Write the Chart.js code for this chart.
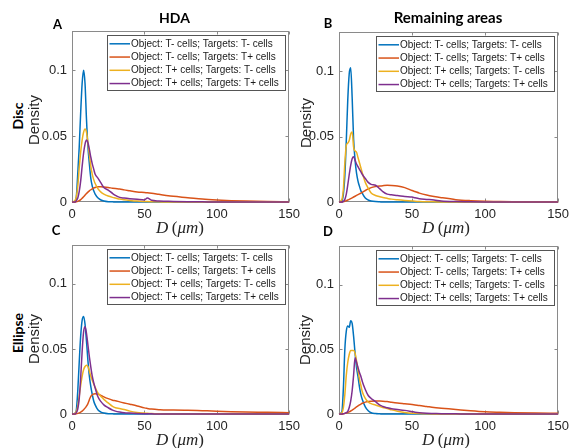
<!DOCTYPE html>
<html><head><meta charset="utf-8">
<script src="https://cdn.jsdelivr.net/npm/chart.js@4.4.0/dist/chart.umd.min.js"></script>
<style>
html,body{margin:0;padding:0;background:#fff;}
#wrap{position:relative;width:574px;height:448px;overflow:hidden;font-family:"Liberation Sans",Arial,sans-serif;}
canvas{position:absolute;}
.t{position:absolute;white-space:nowrap;color:#000;line-height:1;}
.b{font-weight:bold;font-family:Lato,"Liberation Sans",sans-serif;}
.c{transform:translate(-50%,-50%);}
.r{transform:translate(-50%,-50%) rotate(-90deg);}
.dens{font-size:15px;color:#262626;font-family:"Liberation Sans",Arial,sans-serif;}
.xl{font-family:"Liberation Serif","DejaVu Serif",serif;font-size:17px;color:#262626;}
</style></head><body><div id="wrap"></div>
<script>
// ---------- data ----------
const D_UM = [0,2,3,4,5,6,7,8,9,10,11,12,13,14,15,16,18,20,22,25,28,30,33,36,40,45,50,52,55,60,65,70,80,90,100,110,120,135,150];
const SERIES = ['Object: T- cells; Targets: T- cells','Object: T- cells; Targets: T+ cells','Object: T+ cells; Targets: T- cells','Object: T+ cells; Targets: T+ cells'];
const X_TICKS = [0,50,100,150];
const X_TICK_LABELS = ['0','50','100','150'];
const Y_TICKS = [0,0.05,0.1];
const Y_TICK_LABELS = ['0','0.05','0.1'];

// A: HDA, Disc
const hdaDiscNegNeg = [0,.0005,.004,.022,.042,.068,.09,.1,.09,.063,.042,.029,.018,.012,.0085,.006,.003,.0015,.0007,.0002,.0001,0,0,0,0,0,0,0,0,0,0,0,0,0,0,0,0,0,0];
const hdaDiscNegPos = [0,0,.0002,.0005,.001,.0018,.0028,.004,.0052,.0064,.0075,.0085,.0093,.01,.0106,.011,.0115,.0116,.0114,.011,.0105,.0102,.0098,.0092,.0085,.0076,.0072,.007,.0066,.0058,.005,.0043,.0033,.0022,.0015,.001,.0007,.0004,.0002];
const hdaDiscPosNeg = [0,.001,.004,.012,.026,.038,.047,.053,.0555,.053,.045,.036,.027,.021,.017,.014,.01,.0075,.006,.0045,.0035,.003,.0022,.0017,.0012,.0007,.0004,.0003,.0002,.0001,0,0,0,0,0,0,0,0,0];
const hdaDiscPosPos = [0,0,.001,.003,.008,.016,.027,.037,.044,.047,.045,.04,.034,.029,.025,.021,.018,.0145,.011,.009,.0065,.005,.0035,.003,.0025,.002,.0016,.003,.0013,.0008,.0006,.0004,.0002,.0001,0,0,0,0,0];
// B: Remaining areas, Disc
const remDiscNegNeg = [0,.001,.006,.02,.047,.078,.098,.1025,.08,.048,.032,.022,.016,.012,.0085,.0065,.003,.0015,.0008,.0003,.0001,0,0,0,0,0,0,0,0,0,0,0,0,0,0,0,0,0,0];
const remDiscNegPos = [0,.0001,.0003,.0006,.001,.0015,.002,.0026,.0032,.0038,.0044,.005,.0056,.0062,.0068,.0074,.0088,.01,.011,.0118,.0123,.0125,.0127,.0126,.0122,.011,.0088,.008,.0068,.0053,.0042,.0033,.0018,.001,.0005,.0003,.0002,.0001,.0001];
const remDiscPosNeg = [0,.002,.01,.03,.043,.045,.047,.052,.0535,.042,.039,.038,.034,.03,.026,.022,.015,.0105,.0068,.005,.004,.0035,.0028,.0022,.0017,.0012,.0008,.0006,.0004,.0002,.0001,0,0,0,0,0,0,0,0];
const remDiscPosPos = [0,0,.0005,.002,.006,.013,.021,.028,.033,.0345,.032,.029,.027,.025,.023,.021,.018,.015,.0135,.0128,.01,.008,.006,.0055,.005,.0042,.0038,.0032,.0025,.002,.0015,.0008,.0003,.0001,0,0,0,0,0];
// C: HDA, Ellipse
const hdaEllNegNeg = [0,.0005,.003,.018,.04,.06,.072,.075,.069,.056,.041,.029,.021,.015,.01,.007,.003,.0015,.0007,.0002,.0001,0,0,0,0,0,0,0,0,0,0,0,0,0,0,0,0,0,0];
const hdaEllNegPos = [0,0,.0002,.0005,.0009,.0015,.0022,.0033,.0045,.006,.008,.011,.0135,.0148,.0153,.0155,.0152,.0143,.0132,.0118,.0106,.0102,.0093,.0085,.0075,.0062,.0047,.0043,.0038,.0033,.003,.003,.0028,.0025,.0022,.0018,.0015,.0013,.001];
const hdaEllPosNeg = [0,.0005,.002,.006,.014,.022,.029,.034,.0365,.0375,.0365,.033,.029,.026,.023,.0205,.016,.0135,.0112,.0085,.0058,.0048,.0042,.0035,.0022,.0012,.0007,.0005,.0003,.0001,0,0,0,0,0,0,0,0,0];
const hdaEllPosPos = [0,0,.001,.004,.012,.028,.048,.063,.067,.062,.053,.044,.036,.029,.024,.02,.013,.0095,.007,.0048,.003,.0022,.0015,.001,.0007,.0004,.0002,.00015,.0001,0,0,0,0,0,0,0,0,0,0];
// D: Remaining areas, Ellipse
const remEllNegNeg = [0,.002,.02,.05,.064,.068,.067,.072,.07,.06,.047,.036,.029,.021,.015,.011,.0055,.0025,.001,.0003,.0001,0,0,0,0,0,0,0,0,0,0,0,0,0,0,0,0,0,0];
const remEllNegPos = [0,0,.0002,.0005,.0008,.0012,.0017,.0023,.003,.0038,.0046,.0055,.0062,.007,.0077,.0083,.0092,.0097,.0099,.01,.01,.0099,.0096,.0091,.0085,.0079,.0073,.007,.0066,.0058,.005,.0045,.0035,.0025,.0017,.0013,.001,.0007,.0005];
const remEllPosNeg = [0,.001,.005,.015,.03,.04,.046,.049,.049,.049,.047,.041,.034,.027,.022,.017,.012,.0093,.008,.007,.0058,.005,.0042,.0032,.0022,.0012,.0006,.0005,.0003,.0001,0,0,0,0,0,0,0,0,0];
const remEllPosPos = [0,0,.0002,.0005,.001,.002,.005,.01,.018,.03,.0435,.04,.036,.032,.029,.025,.019,.0143,.012,.0095,.0068,.0058,.0048,.004,.0035,.0028,.0018,.0014,.001,.0006,.0004,.0002,.0001,0,0,0,0,0,0];

// ---------- styling / layout ----------
const COLORS = ['#0072BD','#D95319','#EDB120','#7E2F8E'];
const wrap = document.getElementById('wrap');

const framePlugin = {
  id:'frame',
  beforeDatasetsDraw(chart){
    const {ctx, chartArea:a, scales:{x,y}} = chart;
    ctx.save();
    ctx.strokeStyle='#8a8a8a'; ctx.lineWidth=1;
    const L=Math.round(a.left)+0.5, R=Math.round(a.right)-0.5, T=Math.round(a.top)+0.5, B=Math.round(a.bottom)-0.5;
    ctx.strokeRect(L,T,R-L,B-T);
    ctx.beginPath();
    x.ticks.forEach(t=>{const p=Math.round(x.getPixelForValue(t.value))+0.5; ctx.moveTo(p,B); ctx.lineTo(p,B-3); ctx.moveTo(p,T); ctx.lineTo(p,T+3);});
    y.ticks.forEach(t=>{const p=Math.round(y.getPixelForValue(t.value))+0.5; ctx.moveTo(L,p); ctx.lineTo(L+3,p); ctx.moveTo(R,p); ctx.lineTo(R-3,p);});
    ctx.stroke();
    ctx.restore();
  }
};
const legendPlugin = {
  id:'boxLegend',
  afterDraw(chart){
    const {ctx, chartArea:a} = chart;
    const w=178, h=55;
    const x0=Math.round(a.right-4-w), y0=Math.round(a.top+4);
    ctx.save();
    ctx.fillStyle='#fff'; ctx.fillRect(x0,y0,w,h);
    ctx.strokeStyle='#555'; ctx.lineWidth=1; ctx.strokeRect(x0+0.5,y0+0.5,w,h);
    ctx.font='10px "Liberation Sans", Arial, sans-serif';
    ctx.textBaseline='middle'; ctx.textAlign='left';
    chart.data.datasets.forEach((ds,i)=>{
      const cy=y0+8.8+i*13.25;
      ctx.strokeStyle=ds.borderColor; ctx.lineWidth=1.5;
      ctx.beginPath(); ctx.moveTo(x0+2.5,cy); ctx.lineTo(x0+23,cy); ctx.stroke();
      ctx.fillStyle='#1a1a1a'; ctx.fillText(ds.label,x0+24,cy);
    });
    ctx.restore();
  }
};

function panel(plot, arrays){
  const [pl,pt,pr,pb]=plot;
  const yw=45, xh=20, padT=10, padR=15;
  const cv=document.createElement('canvas');
  const W=yw+(pr-pl)+padR, H=padT+(pb-pt)+xh;
  cv.width=W; cv.height=H;
  cv.style.left=(pl-yw)+'px'; cv.style.top=(pt-padT)+'px';
  cv.style.width=W+'px'; cv.style.height=H+'px';
  wrap.appendChild(cv);
  const tickFont={family:'"Liberation Sans", Arial, sans-serif', size:13};
  new Chart(cv,{
    type:'line',
    data:{datasets:arrays.map((arr,i)=>({
      label:SERIES[i],
      data:D_UM.map((x,j)=>({x:x,y:arr[j]})),
      borderColor:COLORS[i], backgroundColor:COLORS[i],
      borderWidth:1.5, pointRadius:0, fill:false,
      cubicInterpolationMode:'monotone', clip:3, order:4-i
    }))},
    options:{
      responsive:false, animation:false, events:[],
      layout:{padding:{top:padT,right:padR,left:0,bottom:0}},
      plugins:{legend:{display:false}, tooltip:{enabled:false}},
      scales:{
        x:{type:'linear', min:0, max:150,
           grid:{display:false,drawTicks:false}, border:{display:false},
           ticks:{font:tickFont,color:'#262626',padding:5,maxRotation:0,autoSkip:false,
                  callback:(v,i)=>X_TICK_LABELS[i]},
           afterBuildTicks:s=>{s.ticks=X_TICKS.map(v=>({value:v}));},
           afterFit:s=>{s.height=xh;}},
        y:{type:'linear', min:0, max:0.13,
           grid:{display:false,drawTicks:false}, border:{display:false},
           ticks:{font:tickFont,color:'#262626',padding:5,autoSkip:false,
                  callback:(v,i)=>Y_TICK_LABELS[i]},
           afterBuildTicks:s=>{s.ticks=Y_TICKS.map(v=>({value:v}));},
           afterFit:s=>{s.width=yw;}}
      }
    },
    plugins:[framePlugin, legendPlugin]
  });
}

panel([72,28,290,202],[hdaDiscNegNeg,hdaDiscNegPos,hdaDiscPosNeg,hdaDiscPosPos]);
panel([339,29,559,202],[remDiscNegNeg,remDiscNegPos,remDiscPosNeg,remDiscPosPos]);
panel([72,242,290,414],[hdaEllNegNeg,hdaEllNegPos,hdaEllPosNeg,hdaEllPosPos]);
panel([339,243,559,414],[remEllNegNeg,remEllNegPos,remEllPosNeg,remEllPosPos]);

// ---------- text ----------
function txt(html, x, y, cls, style){
  const d=document.createElement('div');
  d.className='t '+cls; d.innerHTML=html;
  d.style.left=x+'px'; d.style.top=y+'px';
  if(style) d.style.cssText+=style;
  wrap.appendChild(d);
}
txt('HDA',174.5,17.5,'b c','font-size:14px;');
txt('Remaining areas',448,17,'b c','font-size:15px;');
txt('A',57.5,23.5,'b c','font-size:13px;');
txt('B',328,22.5,'b c','font-size:13px;');
txt('C',56,230,'b c','font-size:13px;');
txt('D',328,231,'b c','font-size:13px;');
txt('Disc',17.5,116,'b r','font-size:14px;');
txt('Ellipse',17.5,332.5,'b r','font-size:14px;');
txt('Density',33.3,120,'dens r');
txt('Density',304.5,122.5,'dens r');
txt('Density',33.3,339,'dens r');
txt('Density',304,340,'dens r');
const XL='<i>D</i>&#8201;(<i>μm</i>)';
txt(XL,180,227,'xl c');
txt(XL,446,227,'xl c');
txt(XL,180,439,'xl c');
txt(XL,446,439,'xl c');
</script></body></html>
